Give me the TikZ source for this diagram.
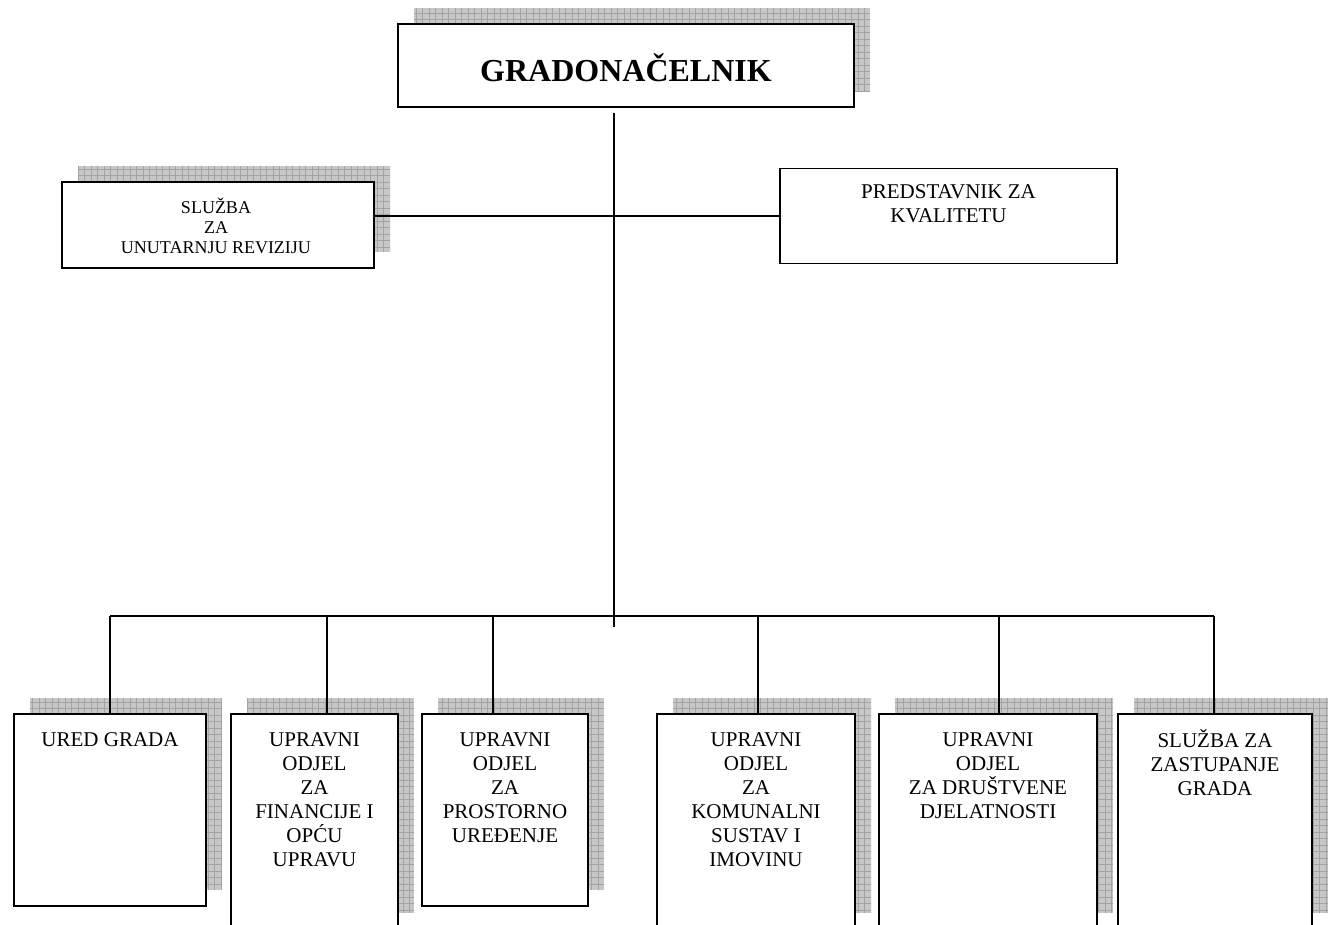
\documentclass[tikz,border=0pt]{standalone}
\usepackage{fontspec}
\setmainfont{Liberation Serif}
\usetikzlibrary{backgrounds}
\newcommand\boxshadow[1]{%
  \path ([shift={(16,-16)}]#1.south west) coordinate (sa)
        ([shift={(16,-16)}]#1.north east) coordinate (sb);
  \begin{scope}
    \clip (sa) rectangle (sb);
    \fill[shadowfill] (sa) rectangle (sb);
    \draw[shadowgrid, step=6.5pt] (sa) grid (sb);
  \end{scope}}
\begin{document}
\begin{tikzpicture}[x=1pt,y=-1pt,
  box/.style={draw, line width=1.6pt, fill=white, inner sep=0pt, outer sep=0pt},
  conn/.style={line width=1.5pt},
  txt/.style={anchor=north, inner sep=0pt, align=center, font=\fontsize{21}{24}\selectfont},
  smalltxt/.style={anchor=north, inner sep=0pt, align=center, font=\fontsize{18}{20}\selectfont},
  shadowfill/.style={fill=black!22},
  shadowgrid/.style={draw=black!36, line width=0.6pt}]
\useasboundingbox (0,0) rectangle (1330,924);
\clip (0,0) rectangle (1330,924);

% boxes
\node[box, minimum width=456pt, minimum height=83pt] (g) at (626,65.5) {};
\node[box, minimum width=312pt, minimum height=86pt] (s) at (218,225) {};
\node[box, minimum width=337pt, minimum height=95pt] (p) at (948.5,216) {};
\node[box, minimum width=192pt, minimum height=192pt] (b1) at (110,810) {};
\node[box, minimum width=167pt, minimum height=215pt] (b2) at (314.5,821.5) {};
\node[box, minimum width=166pt, minimum height=192pt] (b3) at (505,810) {};
\node[box, minimum width=198pt, minimum height=215pt] (b4) at (756,821.5) {};
\node[box, minimum width=218pt, minimum height=215pt] (b5) at (988,821.5) {};
\node[box, minimum width=194pt, minimum height=215pt] (b6) at (1215,821.5) {};

% background and shadows
\begin{scope}[on background layer]
  \fill[white] (0,0) rectangle (1330,924);
  \boxshadow{g}
  \boxshadow{s}
  \boxshadow{b1}
  \boxshadow{b2}
  \boxshadow{b3}
  \boxshadow{b4}
  \boxshadow{b5}
  \boxshadow{b6}
\end{scope}

% texts
\node[anchor=base, inner sep=0pt, font=\fontsize{32}{36}\selectfont\bfseries] (gt) at (626,81) {GRADONAČELNIK};
\node[smalltxt] (st) at (216,198) {\strut SLUŽBA\\ZA\\UNUTARNJU REVIZIJU};
\node[txt] (pt) at (948.5,181) {\strut PREDSTAVNIK ZA\\KVALITETU};
\node[txt] (t1) at (110,729) {\strut URED GRADA};
\node[txt] (t2) at (314.5,729) {\strut UPRAVNI\\ODJEL\\ZA\\FINANCIJE I\\OPĆU\\UPRAVU};
\node[txt] (t3) at (505,729) {\strut UPRAVNI\\ODJEL\\ZA\\PROSTORNO\\UREĐENJE};
\node[txt] (t4) at (756,729) {\strut UPRAVNI\\ODJEL\\ZA\\KOMUNALNI\\SUSTAV I\\IMOVINU};
\node[txt] (t5) at (988,729) {\strut UPRAVNI\\ODJEL\\ZA DRUŠTVENE\\DJELATNOSTI};
\node[txt] (t6) at (1215,729) {\strut SLUŽBA ZA\\ZASTUPANJE\\GRADA};

% connectors
\coordinate (ttop) at (614,113);
\coordinate (tbot) at (614,627);
\draw[conn] (ttop) -- (tbot);
\draw[conn] (p.west) -- (p.west -| s.east);
\coordinate (d1) at (110,616);
\coordinate (d2) at (327,616);
\coordinate (d3) at (493,616);
\coordinate (d4) at (758,616);
\coordinate (d5) at (999,616);
\coordinate (d6) at (1214,616);
\draw[conn] (d1) -- (d6);
\draw[conn] (d1) -- (d1 |- b1.north);
\draw[conn] (d2) -- (d2 |- b2.north);
\draw[conn] (d3) -- (d3 |- b3.north);
\draw[conn] (d4) -- (d4 |- b4.north);
\draw[conn] (d5) -- (d5 |- b5.north);
\draw[conn] (d6) -- (d6 |- b6.north);
\end{tikzpicture}
\end{document}
